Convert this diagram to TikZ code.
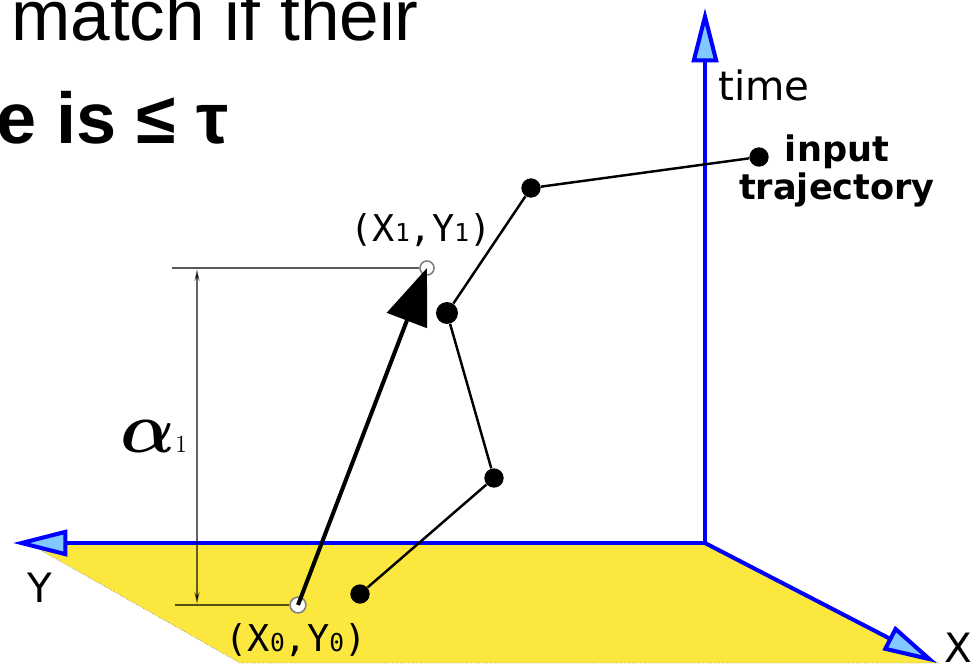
\documentclass[tikz,border=0pt]{standalone}
\usepackage{amsmath}
\usepackage{fontspec}
\newfontfamily\headfont{Liberation Sans}
\newfontfamily\labelfont{DejaVu Sans}
\newfontfamily\coordfont{DejaVu Sans Mono}
\usetikzlibrary{arrows.meta,positioning}
\definecolor{planeyellow}{RGB}{252,231,62}
\definecolor{axisblue}{RGB}{0,0,255}
\definecolor{tipblue}{RGB}{128,200,255}

\begin{document}
\begin{tikzpicture}[
  x=0.2mm,y=-0.2mm,
  axis/.style={draw=axisblue,line width=2.3pt,-{Triangle[length=31pt,width=15pt,fill=tipblue]}},
  dot/.style={circle,fill=black,inner sep=0pt,minimum size=11pt},
  endpt/.style={circle,draw=black!50,fill=white,line width=0.9pt,inner sep=0pt,minimum size=9pt},
  traj/.style={line width=1.4pt},
  vec/.style={line width=2.3pt,-{Triangle[length=32pt,width=24pt]}},
  dim/.style={draw=black,draw opacity=0.65,line width=1.1pt},
  dimarr/.style={draw=black,draw opacity=0.6,line width=0.8pt,{Stealth[length=7pt,width=3pt]}-{Stealth[length=7pt,width=3pt]}},
  coordlbl/.style={inner sep=0pt,font=\coordfont\fontsize{21}{21}\selectfont},
  axlbl/.style={inner sep=0pt,font=\labelfont\fontsize{23}{23}\selectfont}
]
\clip (0,0) rectangle (980,667);

% slide text
\node[anchor=base west,inner sep=0pt,font=\headfont\fontsize{40.5}{40.5}\selectfont] (line1) at (11,40) {match if their};
\node[anchor=base west,inner sep=0pt,font=\headfont\bfseries\fontsize{41}{41}\selectfont] (line2) at (-4,143) {e is ≤ τ};

% ground plane
\fill[planeyellow,draw=black!35,densely dotted,line width=0.5pt] (28,543) -- (705,543) -- (938,663) -- (240,663) -- cycle;

% axes
\coordinate (o) at (705,543);
\coordinate (tT) at (705,8);
\coordinate (tY) at (13,543);
\coordinate (tX) at (937,663);
\draw[axis] (o) -- (tT);
\draw[axis] (o) -- (tY);
\draw[axis] (o) -- (tX);
\node[axlbl,anchor=base west] (tlabel) at (718,100) {time};
\node[axlbl] (ylabel) at (40,588) {Y};
\node[axlbl] (xlabel) at (958,648) {X};

% displacement and its height
\node[endpt] (s0) at (298,605) {};
\node[endpt,minimum size=8pt] (s1) at (427,268) {};
\coordinate (d0) at (175,605);
\coordinate (d1) at (172,268);
\draw[dim] (s0) -- (d0);
\draw[dim] (s1) -- (d1);
\coordinate (v0) at (197,604);
\coordinate (v1) at (197,269);
\draw[dimarr] (v0) -- (v1);
\node[anchor=base west,inner sep=0pt] (alpha) at (120,452) {\scalebox{4.1}{$\boldsymbol{\alpha}$}{\fontsize{14}{14}\selectfont 1}};
\draw[vec] (s0.center) -- (s1.center);
\node[coordlbl] (s0label) at (296,640) {(X{\fontsize{14}{14}\selectfont 0},Y{\fontsize{14}{14}\selectfont 0})};
\node[coordlbl] (s1label) at (421,230) {(X{\fontsize{14}{14}\selectfont 1},Y{\fontsize{14}{14}\selectfont 1})};

% input trajectory
\node[dot] (p1) at (360,594) {};
\node[dot] (p2) at (494,478) {};
\node[dot,minimum size=12.5pt] (p3) at (447,313) {};
\node[dot] (p4) at (531,188) {};
\node[dot] (p5) at (759,157) {};
\draw[traj] (p1) -- (p2) -- (p3) -- (p4) -- (p5);
\node[align=center,inner sep=0pt,font=\labelfont\bfseries\fontsize{20}{22}\selectfont] (trajlabel) at (837,171) {input\\trajectory};
\end{tikzpicture}
\end{document}
